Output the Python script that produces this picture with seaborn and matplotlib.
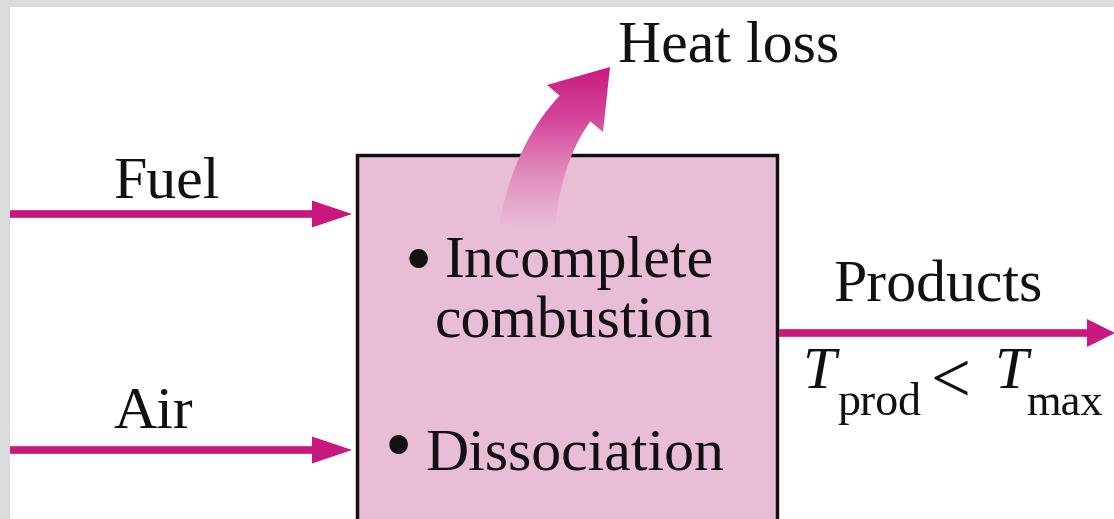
import numpy as np
import matplotlib
matplotlib.use("Agg")
import matplotlib.pyplot as plt
import seaborn as sns
from matplotlib.patches import Rectangle, Polygon, PathPatch
from matplotlib.path import Path
from matplotlib.colors import LinearSegmentedColormap

sns.set_theme(style="white")
plt.rcParams["font.family"] = ["Liberation Serif", "DejaVu Serif"]

# ---- content ----
input_labels = ["Fuel", "Air"]
process_items = [["Incomplete", "combustion"], ["Dissociation"]]
output_label = "Products"
heat_label = "Heat loss"
temp_parts = ["T", "prod", "<", "T", "max"]

# ---- styling / layout (pixel coordinates) ----
W, H = 1114, 519
ARROW_C = "#c8177f"
BOX_FILL = "#e9bdd6"
TXT = "#111111"
FS = 43
SUB_FS = 33
input_y = [214, 450]
input_label_xy = [(113, 197), (113, 428)]
box = (357, 155, 777, 530)

fig = plt.figure(figsize=(W / 100, H / 100), dpi=100, facecolor="#dcdcdc")
ax = fig.add_axes([0, 0, 1, 1])
ax.set_xlim(0, W)
ax.set_ylim(H, 0)
ax.axis("off")

# white panel
ax.add_patch(Rectangle((10, 7), W - 10, H, facecolor="white", edgecolor="none", zorder=0))

# process box
ax.add_patch(Rectangle((box[0], box[1]), box[2] - box[0], box[3] - box[1],
                       facecolor=BOX_FILL, edgecolor=TXT, lw=2.5, zorder=2))


def h_arrow(x0, x1, y, head_len=40, head_h=27, lw=5.5):
    sns.lineplot(x=[x0, x1 - head_len + 2], y=[y, y], ax=ax, color=ARROW_C, lw=lw,
                 solid_capstyle="butt", zorder=3)
    ax.add_patch(Polygon([[x1 - head_len, y - head_h / 2], [x1, y], [x1 - head_len, y + head_h / 2]],
                         closed=True, facecolor=ARROW_C, edgecolor="none", zorder=3))


for lbl, y, (tx, ty) in zip(input_labels, input_y, input_label_xy):
    h_arrow(10, 352, y)
    ax.text(tx, ty, lbl, fontsize=FS, va="baseline", ha="left", color=TXT, zorder=5)

# products arrow
h_arrow(box[2] + 2, W + 1, 333, head_len=28, head_h=28)
ax.text(833, 302, output_label, fontsize=FS, va="baseline", ha="left", color=TXT)

# temperature relation
ax.text(802, 388, temp_parts[0], fontsize=FS, style="italic", va="baseline", ha="left", color=TXT)
ax.text(837, 415, temp_parts[1], fontsize=SUB_FS, va="baseline", ha="left", color=TXT)
ax.text(931, 402, temp_parts[2], fontsize=51, va="baseline", ha="left", color=TXT)
ax.text(994, 388, temp_parts[3], fontsize=FS, style="italic", va="baseline", ha="left", color=TXT)
ax.text(1026, 415, temp_parts[4], fontsize=32, va="baseline", ha="left", color=TXT)

# box texts
ax.text(405, 285, "\u2022", fontsize=56, va="baseline", ha="left", color=TXT, zorder=5)
ax.text(445, 277, process_items[0][0], fontsize=FS, va="baseline", ha="left", color=TXT, zorder=5)
ax.text(435, 337, process_items[0][1], fontsize=FS, va="baseline", ha="left", color=TXT, zorder=5)
ax.text(385, 471, "\u2022", fontsize=56, va="baseline", ha="left", color=TXT, zorder=5)
ax.text(425, 470, process_items[1][0], fontsize=FS, va="baseline", ha="left", color=TXT, zorder=5)

# heat loss label
ax.text(618, 62, heat_label, fontsize=FS, va="baseline", ha="left", color=TXT)

# curved heat-loss arrow with gradient
P0 = np.array([527.0, 228.0])
P1 = np.array([537.0, 154.0])
P2 = np.array([575.0, 108.5])
t = np.linspace(0, 1, 60)[:, None]
pts = (1 - t) ** 2 * P0 + 2 * (1 - t) * t * P1 + t ** 2 * P2
der = 2 * (1 - t) * (P1 - P0) + 2 * t * (P2 - P1)
der /= np.linalg.norm(der, axis=1)[:, None]
nrm = np.column_stack([-der[:, 1], der[:, 0]])
width = (56 - 16 * t[:, 0])[:, None] / 2
left = pts + nrm * width
right = pts - nrm * width
tip = np.array([610.0, 67.0])
wing_a = np.array([547.0, 85.0])
wing_b = np.array([603.0, 132.0])
side1, side2 = (left, right)
if np.linalg.norm(side1[-1] - wing_a) > np.linalg.norm(side2[-1] - wing_a):
    side1, side2 = side2, side1
verts = np.vstack([side1, [wing_a, tip, wing_b], side2[::-1], side1[:1]])
codes = [Path.MOVETO] + [Path.LINETO] * (len(verts) - 2) + [Path.CLOSEPOLY]
clip_path = PathPatch(Path(verts, codes), facecolor="none", edgecolor="none", transform=ax.transData)
ax.add_patch(clip_path)
cmap = LinearSegmentedColormap.from_list("heat", [BOX_FILL, "#e08cbc", "#d4449a", "#c8177f"])
grad = np.linspace(1, 0, 200)[:, None] * np.ones((1, 10))
im = ax.imshow(grad, extent=[490, 620, 228, 62], cmap=cmap, aspect="auto", zorder=4,
               interpolation="bilinear", vmin=0, vmax=1)
im.set_clip_path(clip_path)

fig.savefig("out.png", dpi=100, facecolor=fig.get_facecolor())
